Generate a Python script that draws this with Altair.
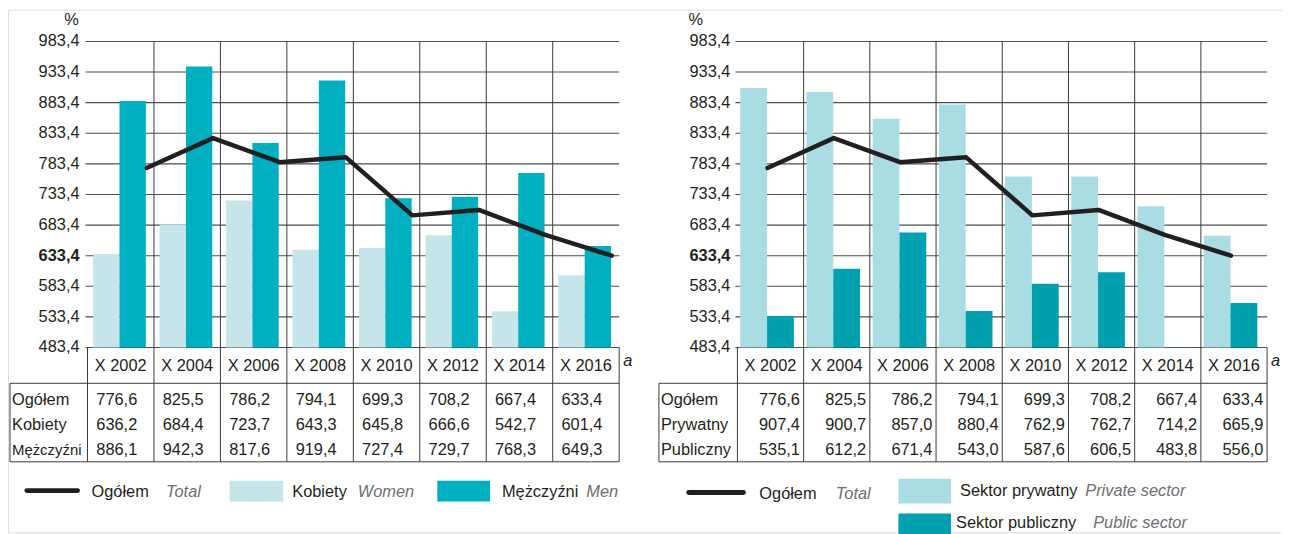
import altair as alt
import pandas as pd

# ---------------- data ----------------
years = ["X 2002", "X 2004", "X 2006", "X 2008", "X 2010", "X 2012", "X 2014", "X 2016"]
total = [776.6, 825.5, 786.2, 794.1, 699.3, 708.2, 667.4, 633.4]
women = [636.2, 684.4, 723.7, 643.3, 645.8, 666.6, 542.7, 601.4]
men = [886.1, 942.3, 817.6, 919.4, 727.4, 729.7, 768.3, 649.3]
private = [907.4, 900.7, 857.0, 880.4, 762.9, 762.7, 714.2, 665.9]
public = [535.1, 612.2, 671.4, 543.0, 587.6, 606.5, 483.8, 556.0]
y_ticks = [483.4, 533.4, 583.4, 633.4, 683.4, 733.4, 783.4, 833.4, 883.4, 933.4, 983.4]
base_value = 483.4
rows_left = ["Ogółem", "Kobiety", "Mężczyźni"]
rows_right = ["Ogółem", "Prywatny", "Publiczny"]


def fmt(v):
    return f"{v:.1f}".replace(".", ",")


FONT = "Lato"
FS = 16.5
DARK = "#231f20"
GRAY_TXT = "#6d6e71"
LINE_C = "#3a3a3a"

dfL = pd.DataFrame({"year": years, "total": total, "a": women, "b": men})
dfR = pd.DataFrame({"year": years, "total": total, "a": private, "b": public})

ys = alt.Scale(domain=[y_ticks[0], y_ticks[-1]], range=[340, 32], zero=False, nice=False)
df_ticks = pd.DataFrame({"v": y_ticks, "label": [fmt(v) for v in y_ticks]})


def panel(df, x0, x1, col_a, col_b, bar_w, off_a, off_b, line_off, val_off,
          row_labels, label_x, pct_x, border_x):
    xs = alt.Scale(type="band", domain=years, range=[x0, x1], paddingInner=0, paddingOuter=0)
    X = lambda **kw: alt.X("year:N", scale=xs, axis=None, **kw)
    base = alt.Chart(df)
    layers = []
    # gridlines
    layers.append(
        alt.Chart(df_ticks).mark_rule(color="#4d4d4d", strokeWidth=1.1).encode(
            y=alt.Y("v:Q", scale=ys, axis=None), x=alt.value(x0 - 2), x2=alt.value(x1)
        )
    )
    # y labels
    layers.append(
        alt.Chart(df_ticks).transform_filter(alt.datum.v != total[-1]).mark_text(
            align="right", baseline="middle", fontSize=FS, color=DARK
        ).encode(y=alt.Y("v:Q", scale=ys, axis=None), x=alt.value(label_x), text="label:N")
    )
    layers.append(
        alt.Chart(df_ticks).transform_filter(alt.datum.v == total[-1]).mark_text(
            align="right", baseline="middle", fontSize=FS, fontWeight="bold", color=DARK
        ).encode(y=alt.Y("v:Q", scale=ys, axis=None), x=alt.value(label_x), text="label:N")
    )
    layers.append(
        alt.Chart(pd.DataFrame({"t": ["%"]})).mark_text(
            align="center", baseline="middle", fontSize=FS, color=DARK
        ).encode(x=alt.value(pct_x), y=alt.value(10), text="t:N")
    )
    # bars
    layers.append(
        base.mark_bar(color=col_a, width=bar_w, xOffset=off_a).encode(
            x=X(), y=alt.Y("a:Q", scale=ys, axis=None), y2=alt.datum(base_value)
        )
    )
    layers.append(
        base.mark_bar(color=col_b, width=bar_w, xOffset=off_b).encode(
            x=X(), y=alt.Y("b:Q", scale=ys, axis=None), y2=alt.datum(base_value)
        )
    )
    # vertical separators
    inner = pd.DataFrame({"year": years[1:]})
    layers.append(
        alt.Chart(inner).mark_rule(color=LINE_C, strokeWidth=1).encode(
            x=X(bandPosition=0), y=alt.value(32), y2=alt.value(455)
        )
    )
    layers.append(
        alt.Chart(pd.DataFrame({"year": years[:1]})).mark_rule(color=LINE_C, strokeWidth=1).encode(
            x=X(bandPosition=0), y=alt.value(340), y2=alt.value(455)
        )
    )
    layers.append(
        alt.Chart(pd.DataFrame({"year": years[-1:]})).mark_rule(color=LINE_C, strokeWidth=1).encode(
            x=X(bandPosition=1), y=alt.value(340), y2=alt.value(455)
        )
    )
    # table horizontal lines and left border
    for yy in (376, 455):
        layers.append(
            alt.Chart(pd.DataFrame({"k": [0]})).mark_rule(color=LINE_C, strokeWidth=1).encode(
                x=alt.value(border_x), x2=alt.value(x1), y=alt.value(yy)
            )
        )
    layers.append(
        alt.Chart(pd.DataFrame({"k": [0]})).mark_rule(color=LINE_C, strokeWidth=1).encode(
            x=alt.value(border_x), y=alt.value(376), y2=alt.value(455)
        )
    )
    # line
    layers.append(
        base.mark_line(color=DARK, strokeWidth=4.5, xOffset=line_off,
                       strokeCap="round", strokeJoin="round").encode(
            x=X(), y=alt.Y("total:Q", scale=ys, axis=None)
        )
    )
    # header
    layers.append(
        base.mark_text(baseline="middle", align="center", fontSize=FS, color=DARK).encode(
            x=X(), y=alt.value(359), text="year:N"
        )
    )
    layers.append(
        alt.Chart(pd.DataFrame({"t": ["a"]})).mark_text(
            align="left", baseline="middle", fontSize=FS, fontStyle="italic", color=DARK
        ).encode(x=alt.value(x1 + 4), y=alt.value(354), text="t:N")
    )
    # table values
    tab = pd.DataFrame({
        "year": years * 3,
        "txt": [fmt(v) for v in df["total"]] + [fmt(v) for v in df["a"]] + [fmt(v) for v in df["b"]],
        "row": [0] * 8 + [1] * 8 + [2] * 8,
    })
    ypos = [393, 418, 443]
    for r in range(3):
        layers.append(
            alt.Chart(tab).transform_filter(alt.datum.row == r).mark_text(
                baseline="middle", align="center", fontSize=FS, color=DARK, dx=val_off
            ).encode(x=X(), y=alt.value(ypos[r]), text="txt:N")
        )
        lab = row_labels[r]
        layers.append(
            alt.Chart(pd.DataFrame({"t": [lab]})).mark_text(
                baseline="middle", align="left",
                fontSize=15 if len(lab) > 8 and lab.startswith("M") else FS, color=DARK
            ).encode(x=alt.value(border_x + 2), y=alt.value(ypos[r]), text="t:N")
        )
    return layers


layersL = panel(dfL, 80, 615, "#c5e5ea", "#00afc0", 26.5, -14.5, 12, 26, -4,
                rows_left, 72, 64, 2)
layersR = panel(dfR, 734, 1267, "#a9dce3", "#00a0ae", 27, -17, 10, -3, 9,
                rows_right, 727, 692, 655)


def legend_line(x0, x1, y):
    return alt.Chart(pd.DataFrame({"k": [0]})).mark_rule(
        color=DARK, strokeWidth=5, strokeCap="round"
    ).encode(x=alt.value(x0), x2=alt.value(x1), y=alt.value(y))


def legend_rect(x0, x1, y0, y1, color):
    return alt.Chart(pd.DataFrame({"k": [0]})).mark_rect(color=color).encode(
        x=alt.value(x0), x2=alt.value(x1), y=alt.value(y0), y2=alt.value(y1)
    )


def legend_text(txt, x, y, italic=False):
    return alt.Chart(pd.DataFrame({"t": [txt]})).mark_text(
        align="left", baseline="middle", fontSize=16.5,
        fontStyle="italic" if italic else "normal",
        color=GRAY_TXT if italic else DARK,
    ).encode(x=alt.value(x), y=alt.value(y), text="t:N")


legend = [
    legend_line(19, 70, 484),
    legend_text("Ogółem", 84, 485),
    legend_text("Total", 159, 485, True),
    legend_rect(223, 277, 474, 495, "#c5e5ea"),
    legend_text("Kobiety", 286, 485),
    legend_text("Women", 352, 485, True),
    legend_rect(432, 485, 474, 495, "#00afc0"),
    legend_text("Mężczyźni", 497, 485),
    legend_text("Men", 582, 485, True),
    legend_line(685, 740, 486),
    legend_text("Ogółem", 756, 487),
    legend_text("Total", 833, 487, True),
    legend_rect(896, 949, 472, 497, "#a9dce3"),
    legend_text("Sektor prywatny", 958, 484),
    legend_text("Private sector", 1084, 484, True),
    legend_rect(896, 949, 507, 532, "#00a0ae"),
    legend_text("Sektor publiczny", 954, 517),
    legend_text("Public sector", 1092, 517, True),
]

chart = alt.layer(*(layersL + layersR + legend)).resolve_scale(
    x="independent"
).properties(
    width=1282, height=526, autosize=alt.AutoSizeParams(type="none"), padding=0
).configure_view(stroke="white", strokeWidth=0, strokeOpacity=0, fill="white").configure_text(
    font=FONT
).configure(background="white")

chart.save("out.html", embed_options={"renderer": "svg", "actions": False})
